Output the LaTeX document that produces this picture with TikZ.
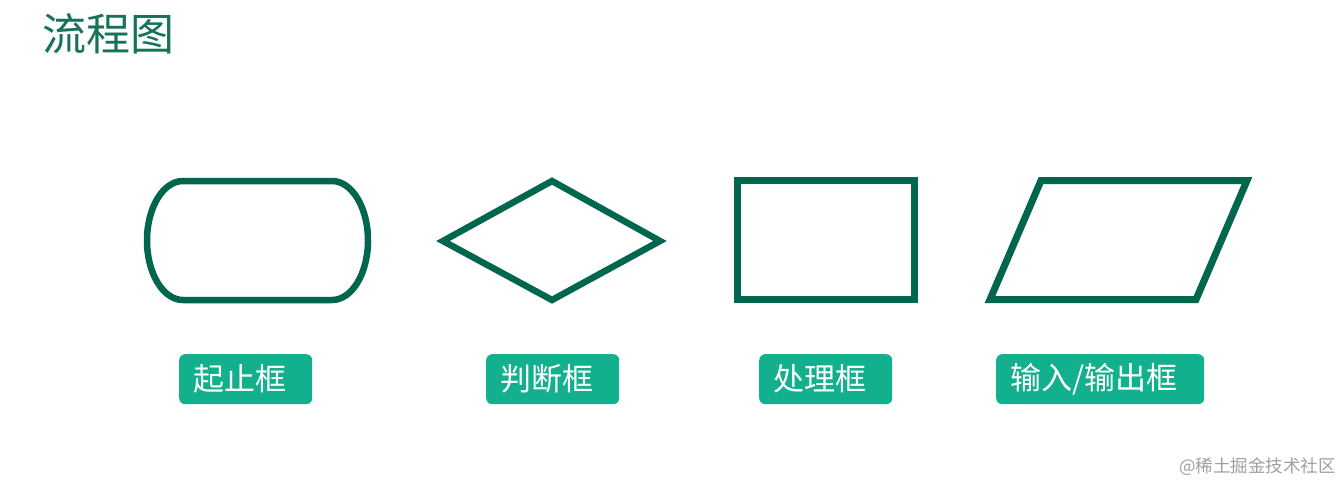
\documentclass[tikz,border=0pt]{standalone}
\usepackage{fontspec}
\setmainfont{Noto Sans CJK SC}
\newfontfamily\cjk{Noto Sans CJK SC}
\definecolor{outl}{HTML}{00664E}
\definecolor{labfill}{HTML}{13B08E}
\definecolor{ttl}{HTML}{167358}
\definecolor{wm}{HTML}{A0A0A0}
\begin{document}
\begin{tikzpicture}[x=1pt,y=-1pt,
  shapeline/.style={draw=outl,line width=6.5pt,line join=miter},
  labbox/.style={fill=labfill,rounded corners=6pt,text=white,minimum height=50pt,
    inner xsep=14pt,inner ysep=0pt,anchor=north west,align=left,
    font=\cjk\fontsize{31}{31}\selectfont}]
\useasboundingbox (0,0) rectangle (1340,484);
\fill[white] (0,0) rectangle (1340,484);
\node[anchor=west,text=ttl,inner sep=0pt,font=\cjk\fontsize{44}{44}\selectfont] (title) at (42,34) {流程图};
% start/end
\draw[shapeline] (183,181) -- (332,181) arc[start angle=-90,end angle=90,x radius=36,y radius=59.5] -- (183,300) arc[start angle=90,end angle=270,x radius=36,y radius=59.5] -- cycle;
% decision
\draw[shapeline] (443,241) -- (552,181) -- (660,241) -- (552,300) -- cycle;
% process
\draw[shapeline,line width=7pt] (737.5,180.5) rectangle (914.5,299.5);
% io
\draw[shapeline,line width=7pt] (1041,180.5) -- (1247,180.5) -- (1196,299.5) -- (990,299.5) -- cycle;
% labels
\node[labbox,text width=105pt] (l1) at (179,354) {起止框};
\node[labbox,text width=105pt] (l2) at (486,354) {判断框};
\node[labbox,text width=105pt] (l3) at (759,354) {处理框};
\node[labbox,text width=180pt] (l4) at (996,354) {输入/输出框};
\node[anchor=east,text=wm,inner sep=0pt,font=\cjk\fontsize{17.5}{17.5}\selectfont] (wmk) at (1336,467) {@稀土掘金技术社区};
\end{tikzpicture}
\end{document}
